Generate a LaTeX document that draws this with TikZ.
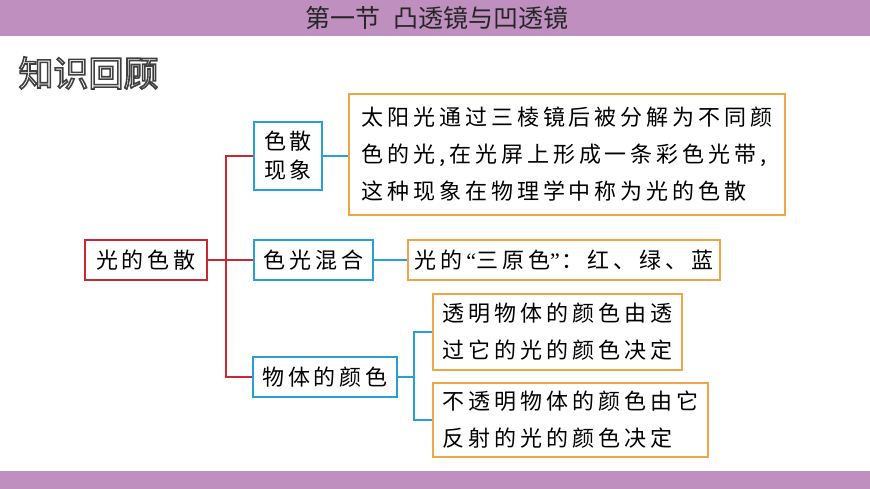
\documentclass[tikz,border=0pt]{standalone}
\usepackage{fontspec}
\newfontfamily\cjk[LetterSpace=18]{Noto Sans CJK SC}
\newfontfamily\cjkplain{Noto Sans CJK SC}
\newfontfamily\latq{Liberation Serif}
\definecolor{barpurple}{RGB}{191,143,192}
\definecolor{myred}{RGB}{200,40,50}
\definecolor{myblue}{RGB}{40,160,215}
\definecolor{myorange}{RGB}{240,165,70}
\tikzset{
  box/.style={draw, line width=1.3pt, inner sep=0pt, align=left,
    font=\cjk\fontsize{22}{37}\selectfont},
  rootbox/.style={box, draw=myred},
  catbox/.style={box, draw=myblue},
  infobox/.style={box, draw=myorange},
  redline/.style={draw=myred, line width=1.3pt},
  blueline/.style={draw=myblue, line width=1.3pt}
}
\begin{document}
\begin{tikzpicture}[x=1pt,y=-1pt]
\useasboundingbox (0,0) rectangle (870,489);
\fill[barpurple] (0,0) rectangle (870,36);
\fill[barpurple] (0,471) rectangle (870,489);
\node[font=\cjkplain\fontsize{25}{28}\selectfont, text=black!85] (title) at (437,18) {第一节\hspace{0.5em}凸透镜与凹透镜};
\node[anchor=west, font=\cjkplain\fontsize{35}{37}\selectfont] (review) at (15,73) {\color{white}\special{pdf:literal direct 2 Tr 1.6 w 0.25 0.25 0.25 RG}知识回顾\special{pdf:literal direct 0 Tr 0 G}};

\node[rootbox, minimum width=122pt, minimum height=40pt] (root) at (146,260) {光的色散};
\node[catbox, minimum width=68pt, minimum height=68pt, font=\cjk\fontsize{22}{29}\selectfont] (c1) at (288,156) {色散\\现象};
\node[catbox, minimum width=119pt, minimum height=40pt] (c2) at (313.5,260) {色光混合};
\node[catbox, minimum width=144pt, minimum height=40pt] (c3) at (325,377) {物体的颜色};

\node[infobox, minimum width=436pt, minimum height=121pt] (i1) at (567,154.5) {太阳光通过三棱镜后被分解为不同颜\\色的光,在光屏上形成一条彩色光带,\\这种现象在物理学中称为光的色散};
\node[infobox, minimum width=312pt, minimum height=40pt] (i2) at (564,260) {光的\hspace{4pt}{\latq “}三原色{\latq ”}\hspace{2pt}：红、绿、蓝};
\node[infobox, minimum width=249pt, minimum height=76pt] (i3) at (557.5,332) {透明物体的颜色由透\\过它的光的颜色决定};
\node[infobox, minimum width=275pt, minimum height=74pt] (i4) at (570.5,420) {不透明物体的颜色由它\\反射的光的颜色决定};

\coordinate (rj) at (226,260);
\draw[redline] (root.east) -- (rj);
\draw[redline] (c1.west) -| (rj) |- (c3.west);
\draw[redline] (rj) -- (c2.west);

\draw[blueline] (c1.east) -- (c1.east -| i1.west);
\draw[blueline] (c2.east) -- (i2.west);
\coordinate (bj) at (414,377);
\draw[blueline] (c3.east) -- (bj);
\draw[blueline] (i3.west) -| (bj) |- (i4.west);
\end{tikzpicture}
\end{document}
